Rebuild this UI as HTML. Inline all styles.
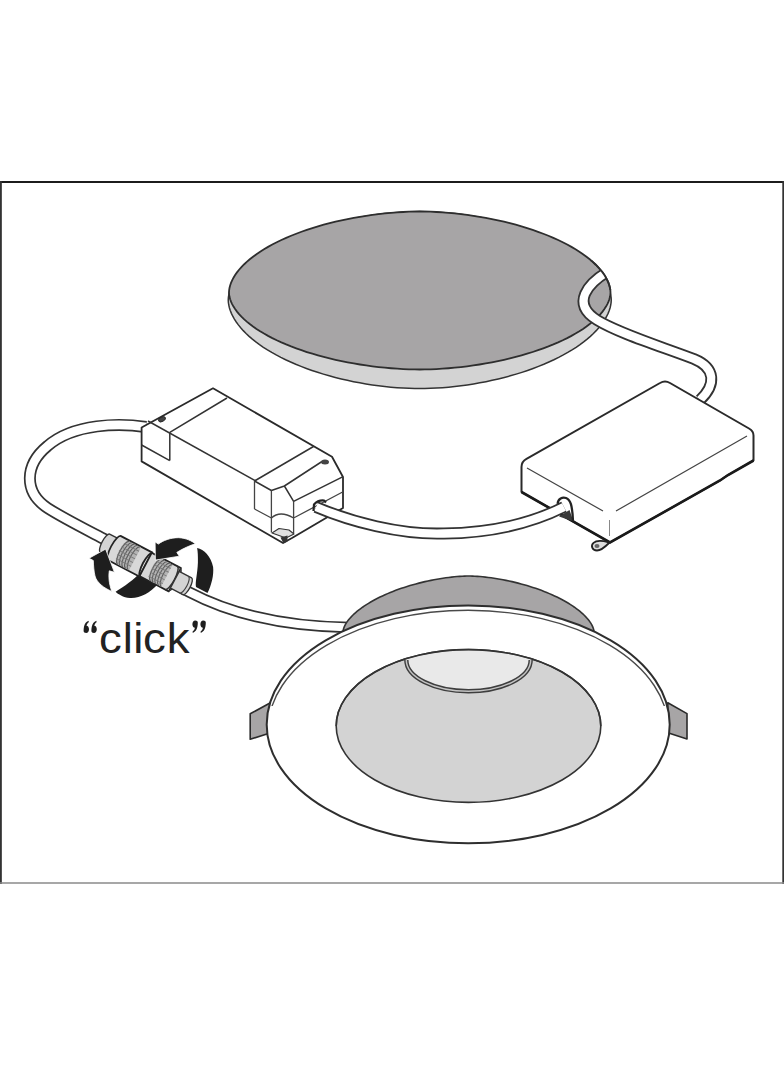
<!DOCTYPE html>
<html><head><meta charset="utf-8">
<style>
html,body{margin:0;padding:0;background:#fff;}
svg{display:block;}
</style></head><body>
<svg width="784" height="1066" viewBox="0 0 784 1066">
<defs><clipPath id="discclip"><path d="M610.50 292.50 L610.37 294.55 L610.00 296.83 L609.37 299.20 L608.49 301.63 L607.37 304.10 L606.00 306.59 L604.38 309.10 L602.52 311.62 L600.43 314.13 L598.09 316.64 L595.53 319.14 L592.74 321.62 L589.72 324.07 L586.48 326.50 L583.03 328.90 L579.37 331.26 L575.50 333.58 L571.44 335.85 L567.19 338.08 L562.75 340.25 L558.13 342.37 L553.35 344.43 L548.40 346.43 L543.30 348.36 L538.05 350.22 L532.66 352.02 L527.14 353.73 L521.51 355.37 L515.76 356.93 L509.91 358.41 L503.98 359.80 L497.96 361.11 L491.88 362.33 L485.74 363.46 L479.55 364.49 L473.34 365.43 L467.11 366.28 L460.88 367.03 L454.67 367.68 L448.49 368.24 L442.37 368.69 L436.35 369.04 L430.47 369.30 L424.82 369.45 L419.75 369.50 L414.68 369.45 L409.03 369.30 L403.15 369.04 L397.13 368.69 L391.01 368.24 L384.83 367.68 L378.62 367.03 L372.39 366.28 L366.16 365.43 L359.95 364.49 L353.76 363.46 L347.62 362.33 L341.54 361.11 L335.52 359.80 L329.59 358.41 L323.74 356.93 L317.99 355.37 L312.36 353.73 L306.84 352.02 L301.45 350.22 L296.20 348.36 L291.10 346.43 L286.15 344.43 L281.37 342.37 L276.75 340.25 L272.31 338.08 L268.06 335.85 L264.00 333.58 L260.13 331.26 L256.47 328.90 L253.02 326.50 L249.78 324.07 L246.76 321.62 L243.97 319.14 L241.41 316.64 L239.07 314.13 L236.98 311.62 L235.12 309.10 L233.50 306.59 L232.13 304.10 L231.01 301.63 L230.13 299.20 L229.50 296.83 L229.13 294.55 L229.00 292.50 L229.13 290.35 L229.50 287.95 L230.13 285.45 L231.01 282.89 L232.13 280.30 L233.50 277.67 L235.12 275.03 L236.98 272.39 L239.07 269.74 L241.41 267.10 L243.97 264.48 L246.76 261.87 L249.78 259.29 L253.02 256.73 L256.47 254.21 L260.13 251.73 L264.00 249.29 L268.06 246.90 L272.31 244.55 L276.75 242.27 L281.37 240.04 L286.15 237.87 L291.10 235.77 L296.20 233.74 L301.45 231.78 L306.84 229.89 L312.36 228.09 L317.99 226.36 L323.74 224.72 L329.59 223.17 L335.52 221.70 L341.54 220.32 L347.62 219.04 L353.76 217.86 L359.95 216.77 L366.16 215.78 L372.39 214.89 L378.62 214.10 L384.83 213.41 L391.01 212.83 L397.13 212.35 L403.15 211.98 L409.03 211.71 L414.68 211.55 L419.75 211.50 L424.82 211.55 L430.47 211.71 L436.35 211.98 L442.37 212.35 L448.49 212.83 L454.67 213.41 L460.88 214.10 L467.11 214.89 L473.34 215.78 L479.55 216.77 L485.74 217.86 L491.88 219.04 L497.96 220.32 L503.98 221.70 L509.91 223.17 L515.76 224.72 L521.51 226.36 L527.14 228.09 L532.66 229.89 L538.05 231.78 L543.30 233.74 L548.40 235.77 L553.35 237.87 L558.13 240.04 L562.75 242.27 L567.19 244.55 L571.44 246.90 L575.50 249.29 L579.37 251.73 L583.03 254.21 L586.48 256.73 L589.72 259.29 L592.74 261.87 L595.53 264.48 L598.09 267.10 L600.43 269.74 L602.52 272.39 L604.38 275.03 L606.00 277.67 L607.37 280.30 L608.49 282.89 L609.37 285.45 L610.00 287.95 L610.37 290.35 Z"/><rect x="0" y="306" width="784" height="800"/></clipPath></defs>
<rect x="0" y="0" width="784" height="1066" fill="#fff"/>
<!-- frame -->
<line x1="0" y1="182" x2="784" y2="182" stroke="#1c1c1c" stroke-width="2"/>
<line x1="0.9" y1="181" x2="0.9" y2="884" stroke="#333" stroke-width="1.9"/>
<line x1="783.2" y1="181" x2="783.2" y2="884" stroke="#333" stroke-width="1.8"/>
<line x1="0" y1="883" x2="784" y2="883" stroke="#8a8a8a" stroke-width="1.5"/>

<!-- top disc -->
<path d="M611.25 300.00 L611.12 302.36 L610.75 304.98 L610.12 307.71 L609.24 310.51 L608.11 313.35 L606.73 316.22 L605.11 319.10 L603.24 322.00 L601.14 324.89 L598.80 327.78 L596.22 330.65 L593.42 333.50 L590.39 336.33 L587.14 339.12 L583.67 341.88 L580.00 344.59 L576.12 347.26 L572.04 349.88 L567.77 352.44 L563.31 354.95 L558.68 357.38 L553.87 359.76 L548.90 362.05 L543.78 364.28 L538.51 366.42 L533.10 368.48 L527.56 370.46 L521.91 372.34 L516.14 374.14 L510.27 375.84 L504.31 377.44 L498.27 378.95 L492.16 380.35 L486.00 381.65 L479.79 382.84 L473.55 383.92 L467.30 384.90 L461.04 385.76 L454.80 386.51 L448.60 387.15 L442.46 387.67 L436.42 388.08 L430.51 388.37 L424.84 388.54 L419.75 388.60 L414.66 388.54 L408.99 388.37 L403.08 388.08 L397.04 387.67 L390.90 387.15 L384.70 386.51 L378.46 385.76 L372.20 384.90 L365.95 383.92 L359.71 382.84 L353.50 381.65 L347.34 380.35 L341.23 378.95 L335.19 377.44 L329.23 375.84 L323.36 374.14 L317.59 372.34 L311.94 370.46 L306.40 368.48 L300.99 366.42 L295.72 364.28 L290.60 362.05 L285.63 359.76 L280.82 357.38 L276.19 354.95 L271.73 352.44 L267.46 349.88 L263.38 347.26 L259.50 344.59 L255.83 341.88 L252.36 339.12 L249.11 336.33 L246.08 333.50 L243.28 330.65 L240.70 327.78 L238.36 324.89 L236.26 322.00 L234.39 319.10 L232.77 316.22 L231.39 313.35 L230.26 310.51 L229.38 307.71 L228.75 304.98 L228.38 302.36 L228.25 300.00 L228.38 297.65 L228.75 295.03 L229.38 292.30 L230.26 289.50 L231.39 286.67 L232.77 283.80 L234.39 280.92 L236.26 278.03 L238.36 275.14 L240.70 272.25 L243.28 269.38 L246.08 266.54 L249.11 263.71 L252.36 260.92 L255.83 258.17 L259.50 255.46 L263.38 252.79 L267.46 250.17 L271.73 247.62 L276.19 245.12 L280.82 242.68 L285.63 240.31 L290.60 238.02 L295.72 235.80 L300.99 233.65 L306.40 231.60 L311.94 229.62 L317.59 227.74 L323.36 225.94 L329.23 224.25 L335.19 222.64 L341.23 221.14 L347.34 219.74 L353.50 218.45 L359.71 217.26 L365.95 216.17 L372.20 215.20 L378.46 214.34 L384.70 213.59 L390.90 212.95 L397.04 212.43 L403.08 212.02 L408.99 211.73 L414.66 211.56 L419.75 211.50 L424.84 211.56 L430.51 211.73 L436.42 212.02 L442.46 212.43 L448.60 212.95 L454.80 213.59 L461.04 214.34 L467.30 215.20 L473.55 216.17 L479.79 217.26 L486.00 218.45 L492.16 219.74 L498.27 221.14 L504.31 222.64 L510.27 224.25 L516.14 225.94 L521.91 227.74 L527.56 229.62 L533.10 231.60 L538.51 233.65 L543.78 235.80 L548.90 238.02 L553.87 240.31 L558.68 242.68 L563.31 245.12 L567.77 247.62 L572.04 250.17 L576.12 252.79 L580.00 255.46 L583.67 258.17 L587.14 260.92 L590.39 263.71 L593.42 266.54 L596.22 269.38 L598.80 272.25 L601.14 275.14 L603.24 278.03 L605.11 280.92 L606.73 283.80 L608.11 286.67 L609.24 289.50 L610.12 292.30 L610.75 295.03 L611.12 297.65 Z" fill="#d3d3d3" stroke="#333" stroke-width="1.5"/>
<path d="M610.50 292.50 L610.37 294.55 L610.00 296.83 L609.37 299.20 L608.49 301.63 L607.37 304.10 L606.00 306.59 L604.38 309.10 L602.52 311.62 L600.43 314.13 L598.09 316.64 L595.53 319.14 L592.74 321.62 L589.72 324.07 L586.48 326.50 L583.03 328.90 L579.37 331.26 L575.50 333.58 L571.44 335.85 L567.19 338.08 L562.75 340.25 L558.13 342.37 L553.35 344.43 L548.40 346.43 L543.30 348.36 L538.05 350.22 L532.66 352.02 L527.14 353.73 L521.51 355.37 L515.76 356.93 L509.91 358.41 L503.98 359.80 L497.96 361.11 L491.88 362.33 L485.74 363.46 L479.55 364.49 L473.34 365.43 L467.11 366.28 L460.88 367.03 L454.67 367.68 L448.49 368.24 L442.37 368.69 L436.35 369.04 L430.47 369.30 L424.82 369.45 L419.75 369.50 L414.68 369.45 L409.03 369.30 L403.15 369.04 L397.13 368.69 L391.01 368.24 L384.83 367.68 L378.62 367.03 L372.39 366.28 L366.16 365.43 L359.95 364.49 L353.76 363.46 L347.62 362.33 L341.54 361.11 L335.52 359.80 L329.59 358.41 L323.74 356.93 L317.99 355.37 L312.36 353.73 L306.84 352.02 L301.45 350.22 L296.20 348.36 L291.10 346.43 L286.15 344.43 L281.37 342.37 L276.75 340.25 L272.31 338.08 L268.06 335.85 L264.00 333.58 L260.13 331.26 L256.47 328.90 L253.02 326.50 L249.78 324.07 L246.76 321.62 L243.97 319.14 L241.41 316.64 L239.07 314.13 L236.98 311.62 L235.12 309.10 L233.50 306.59 L232.13 304.10 L231.01 301.63 L230.13 299.20 L229.50 296.83 L229.13 294.55 L229.00 292.50 L229.13 290.35 L229.50 287.95 L230.13 285.45 L231.01 282.89 L232.13 280.30 L233.50 277.67 L235.12 275.03 L236.98 272.39 L239.07 269.74 L241.41 267.10 L243.97 264.48 L246.76 261.87 L249.78 259.29 L253.02 256.73 L256.47 254.21 L260.13 251.73 L264.00 249.29 L268.06 246.90 L272.31 244.55 L276.75 242.27 L281.37 240.04 L286.15 237.87 L291.10 235.77 L296.20 233.74 L301.45 231.78 L306.84 229.89 L312.36 228.09 L317.99 226.36 L323.74 224.72 L329.59 223.17 L335.52 221.70 L341.54 220.32 L347.62 219.04 L353.76 217.86 L359.95 216.77 L366.16 215.78 L372.39 214.89 L378.62 214.10 L384.83 213.41 L391.01 212.83 L397.13 212.35 L403.15 211.98 L409.03 211.71 L414.68 211.55 L419.75 211.50 L424.82 211.55 L430.47 211.71 L436.35 211.98 L442.37 212.35 L448.49 212.83 L454.67 213.41 L460.88 214.10 L467.11 214.89 L473.34 215.78 L479.55 216.77 L485.74 217.86 L491.88 219.04 L497.96 220.32 L503.98 221.70 L509.91 223.17 L515.76 224.72 L521.51 226.36 L527.14 228.09 L532.66 229.89 L538.05 231.78 L543.30 233.74 L548.40 235.77 L553.35 237.87 L558.13 240.04 L562.75 242.27 L567.19 244.55 L571.44 246.90 L575.50 249.29 L579.37 251.73 L583.03 254.21 L586.48 256.73 L589.72 259.29 L592.74 261.87 L595.53 264.48 L598.09 267.10 L600.43 269.74 L602.52 272.39 L604.38 275.03 L606.00 277.67 L607.37 280.30 L608.49 282.89 L609.37 285.45 L610.00 287.95 L610.37 290.35 Z" fill="#a7a5a6" stroke="#2e2e2e" stroke-width="1.8"/>

<!-- cable disc -> box -->
<g fill="none" stroke-linecap="butt">
<path d="M607 272 C589 283 570 303 597 320 C620 334 660 346 694 359 C716 368 716 385 700 400" stroke="#333" stroke-width="11.8" clip-path="url(#discclip)"/>
<path d="M607 272 C589 283 570 303 597 320 C620 334 660 346 694 359 C716 368 716 385 700 400" stroke="#fff" stroke-width="8.2" clip-path="url(#discclip)"/>
<path d="M610.50 292.50 L610.37 294.55 L610.00 296.83 L609.37 299.20 L608.49 301.63 L607.37 304.10 L606.00 306.59 L604.38 309.10 L602.52 311.62 L600.43 314.13 L598.09 316.64 L595.53 319.14 L592.74 321.62 L589.72 324.07 L586.48 326.50 L583.03 328.90 L579.37 331.26 L575.50 333.58 L571.44 335.85 L567.19 338.08 L562.75 340.25 L558.13 342.37 L553.35 344.43 L548.40 346.43 L543.30 348.36 L538.05 350.22 L532.66 352.02 L527.14 353.73 L521.51 355.37 L515.76 356.93 L509.91 358.41 L503.98 359.80 L497.96 361.11 L491.88 362.33 L485.74 363.46 L479.55 364.49 L473.34 365.43 L467.11 366.28 L460.88 367.03 L454.67 367.68 L448.49 368.24 L442.37 368.69 L436.35 369.04 L430.47 369.30 L424.82 369.45 L419.75 369.50 L414.68 369.45 L409.03 369.30 L403.15 369.04 L397.13 368.69 L391.01 368.24 L384.83 367.68 L378.62 367.03 L372.39 366.28 L366.16 365.43 L359.95 364.49 L353.76 363.46 L347.62 362.33 L341.54 361.11 L335.52 359.80 L329.59 358.41 L323.74 356.93 L317.99 355.37 L312.36 353.73 L306.84 352.02 L301.45 350.22 L296.20 348.36 L291.10 346.43 L286.15 344.43 L281.37 342.37 L276.75 340.25 L272.31 338.08 L268.06 335.85 L264.00 333.58 L260.13 331.26 L256.47 328.90 L253.02 326.50 L249.78 324.07 L246.76 321.62 L243.97 319.14 L241.41 316.64 L239.07 314.13 L236.98 311.62 L235.12 309.10 L233.50 306.59 L232.13 304.10 L231.01 301.63 L230.13 299.20 L229.50 296.83 L229.13 294.55 L229.00 292.50 L229.13 290.35 L229.50 287.95 L230.13 285.45 L231.01 282.89 L232.13 280.30 L233.50 277.67 L235.12 275.03 L236.98 272.39 L239.07 269.74 L241.41 267.10 L243.97 264.48 L246.76 261.87 L249.78 259.29 L253.02 256.73 L256.47 254.21 L260.13 251.73 L264.00 249.29 L268.06 246.90 L272.31 244.55 L276.75 242.27 L281.37 240.04 L286.15 237.87 L291.10 235.77 L296.20 233.74 L301.45 231.78 L306.84 229.89 L312.36 228.09 L317.99 226.36 L323.74 224.72 L329.59 223.17 L335.52 221.70 L341.54 220.32 L347.62 219.04 L353.76 217.86 L359.95 216.77 L366.16 215.78 L372.39 214.89 L378.62 214.10 L384.83 213.41 L391.01 212.83 L397.13 212.35 L403.15 211.98 L409.03 211.71 L414.68 211.55 L419.75 211.50 L424.82 211.55 L430.47 211.71 L436.35 211.98 L442.37 212.35 L448.49 212.83 L454.67 213.41 L460.88 214.10 L467.11 214.89 L473.34 215.78 L479.55 216.77 L485.74 217.86 L491.88 219.04 L497.96 220.32 L503.98 221.70 L509.91 223.17 L515.76 224.72 L521.51 226.36 L527.14 228.09 L532.66 229.89 L538.05 231.78 L543.30 233.74 L548.40 235.77 L553.35 237.87 L558.13 240.04 L562.75 242.27 L567.19 244.55 L571.44 246.90 L575.50 249.29 L579.37 251.73 L583.03 254.21 L586.48 256.73 L589.72 259.29 L592.74 261.87 L595.53 264.48 L598.09 267.10 L600.43 269.74 L602.52 272.39 L604.38 275.03 L606.00 277.67 L607.37 280.30 L608.49 282.89 L609.37 285.45 L610.00 287.95 L610.37 290.35 Z" fill="none" stroke="#2e2e2e" stroke-width="1.8" clip-path="url(#edgeclip)"/><clipPath id="edgeclip"><rect x="590" y="260" width="30" height="30"/></clipPath>
<!-- loop cable -->
<path d="M146 427 C120 423 74 423 47.5 446 C24.5 465 23.5 492 47.5 508 C63 518 85 529 106 540" stroke="#333" stroke-width="12"/>
<path d="M146 427 C120 423 74 423 47.5 446 C24.5 465 23.5 492 47.5 508 C63 518 85 529 106 540" stroke="#fff" stroke-width="8.6"/>
</g>

<!-- right box -->
<g stroke-linejoin="round">
<path d="M521.5 467 Q521.5 461.5 526.5 458.8 L660 383 Q665 380 670 383 L749 428.5 Q753.5 431 753.5 435.5 L753.5 460.5 L728 475 L720 480.5 L610 542.5 L521.5 492 Z" fill="#fff" stroke="#2a2a2a" stroke-width="2"/>
<path d="M527 468 L603 511 M616 511 L747 436" stroke="#444" stroke-width="1.2" fill="none"/>
<path d="M609.5 520 L609.5 536" stroke="#888" stroke-width="1" fill="none"/>
<path d="M521.5 492 L610 542.5 L720 480.5 L728 475 L753.5 460.5" stroke="#1a1a1a" stroke-width="2.6" fill="none" stroke-linejoin="miter"/>
<path d="M610 542 C606 546 602 550.5 597 550.5 C592 550.5 590.5 545.5 593.5 542.8 C596.5 540.2 603 540.5 607 542 Z" fill="#ddd" stroke="#222" stroke-width="1.8"/><ellipse cx="597" cy="546" rx="2.5" ry="2" fill="#666"/>

</g>

<!-- left driver -->
<g stroke-linejoin="round" fill="none">
<path d="M141.6 427.5 L213 388.3 L332 456.8 L343 477 L343 508 L292 538 L283 543 L141.6 461.4 Z" fill="#fff" stroke="#2a2a2a" stroke-width="1.8"/>
<path d="M148 421 L256 481" stroke="#333" stroke-width="1.5"/>
<path d="M169.8 432.4 L169.8 460.6 M141.6 445 L169.8 460.6 M169.8 432.4 L227 398" stroke="#333" stroke-width="1.5"/>
<path d="M254.5 481 L313.5 446.5 M254.5 481 L271.4 490.5 L284.4 486 L293.6 501.3 L342.6 476.8 M284.4 486 L322 461.5" stroke="#333" stroke-width="1.5"/>
<path d="M254.5 481 L254.5 509 M271.4 490.5 L271.4 532.5 M293.6 501.3 L293.6 533 M342.6 492 L293.6 518" stroke="#444" stroke-width="1.3"/>
<path d="M254.5 509 L271.4 518 Q280 510 293.6 518" stroke="#444" stroke-width="1.3"/>
<ellipse cx="325" cy="462" rx="4" ry="2.5" fill="#444"/>
<ellipse cx="162" cy="419.3" rx="3.8" ry="2.2" fill="#444" stroke="#222" stroke-width="0.8" transform="rotate(-28 162 419.3)"/>
<path d="M272 533 L279 528.5 L289 530 L294 534 L286 538 Z" fill="#e0e0e0" stroke="#333" stroke-width="1.1"/><path d="M280.5 537.5 L287.5 535.5 L287.5 541.5 L283.5 543.5 Z" fill="#333"/>

</g>

<!-- cable driver -> box -->
<path d="M316 507 C350 521.5 400 535 444 533.5 C490 533 530 524 564 507" fill="none" stroke="#333" stroke-width="12"/>
<path d="M316 507 C350 521.5 400 535 444 533.5 C490 533 530 524 564 507" fill="none" stroke="#fff" stroke-width="8.4"/>
<path d="M313.5 511 L314 504.5 Q318 500 324 500.5 L326 502.5" fill="none" stroke="#222" stroke-width="2.2"/>
<path d="M559 516.5 L569.5 510 L573.5 521.5 Z" fill="#3a3a3a"/>
<path d="M557.6 503.8 C558 498.5 562.5 496.8 566 498 C570.5 499.8 572.3 505 573 521.3" fill="none" stroke="#222" stroke-width="2.3"/>

<!-- arrows behind -->
<g fill="#1e1e1e">
<path d="M115.6 591.7 C120 589 130 583 139 574 L158 584 C150 593 140 598.5 130 598 C123 597.5 118 594 115.6 591.7 Z"/>
<path d="M197.1 547.9 C204 549.5 211 556 213.1 567 C214 575 211.5 585 207.5 593 L196 587 C195 582 197.5 574 197.9 562.5 C198 556 197.8 551 197.1 547.9 Z"/>
</g>
<!-- cable over crescent -->
<g fill="none">
<path d="M183 588.8 L189 592 C225 611 275 626.5 350 627.5" stroke="#333" stroke-width="11.5"/>
<path d="M183 588.8 L189 592 C225 611 275 626.5 350 627.5" stroke="#fff" stroke-width="8"/>
</g>
<!-- connector -->
<g transform="translate(100,539.5) rotate(27.7) translate(0,0.85) scale(1,1.066)" stroke-linejoin="round">
<path d="M6 -9.5 L17 -9.5 L17 9.5 L6 9.5 A3 9.5 0 0 1 6 -9.5 Z" fill="#d4d4d4" stroke="#333" stroke-width="1.3"/>
<path d="M17 -12.8 L52 -12.8 L52 12.8 L17 12.8 A4 12.8 0 0 1 17 -12.8 Z" fill="#d8d8d8" stroke="#222" stroke-width="1.7"/>
<path d="M26 -12 L40 -12 L40 12 L26 12 A4 12 0 0 1 26 -12 Z" fill="#b4b4b4"/>
<path d="M27 -12 A4 12 0 0 0 27 12 M30 -12 A4 12 0 0 0 30 12 M33 -12 A4 12 0 0 0 33 12 M36 -12 A4 12 0 0 0 36 12 M39 -12 A4 12 0 0 0 39 12" fill="none" stroke="#5e5e5e" stroke-width="1.1"/>
<path d="M23 -8 L40 -8 M22.5 -4 L40 -4 M22 0 L40 0 M22.5 4 L40 4 M23 8 L40 8" fill="none" stroke="#7a7a7a" stroke-width="0.9"/>
<path d="M52 -12.3 L85 -12.3 L85 12.3 L52 12.3 Z" fill="#d8d8d8" stroke="#222" stroke-width="1.7"/>
<path d="M63 -11.5 L76 -11.5 L76 11.5 L63 11.5 A4 11.5 0 0 1 63 -11.5 Z" fill="#b4b4b4"/>
<path d="M64 -11.5 A4 11.5 0 0 0 64 11.5 M67 -11.5 A4 11.5 0 0 0 67 11.5 M70 -11.5 A4 11.5 0 0 0 70 11.5 M73 -11.5 A4 11.5 0 0 0 73 11.5 M76 -11.5 A4 11.5 0 0 0 76 11.5" fill="none" stroke="#5e5e5e" stroke-width="1.1"/>
<path d="M60 -7.5 L76 -7.5 M59.5 -3.5 L76 -3.5 M59.5 0.5 L76 0.5 M59.5 4.5 L76 4.5 M60 8.5 L76 8.5" fill="none" stroke="#7a7a7a" stroke-width="0.9"/>
<path d="M53 -12.8 A4 12.8 0 0 0 53 12.8" fill="none" stroke="#222" stroke-width="1.8"/>
<path d="M81 -12.3 A3.5 12.3 0 0 1 81 12.3 M84.5 -11.8 A3.5 11.8 0 0 1 84.5 11.8" fill="none" stroke="#333" stroke-width="1.5"/>
<path d="M85 -8.8 L99 -8.8 A3 8.8 0 0 1 99 8.8 L85 8.8 Z" fill="#d4d4d4" stroke="#333" stroke-width="1.3"/><path d="M95.5 -8.8 A3 8.8 0 0 1 95.5 8.8" fill="none" stroke="#444" stroke-width="1.2"/>
</g>
<!-- arrows on top -->
<g fill="#1e1e1e" stroke="#fff" stroke-width="0.8" stroke-linejoin="miter">
<path d="M105.6 549.1 L114.4 572.3 L109.3 570.8 C108.5 576 108.7 583 111.8 591.4 C104 588 97 583 95 576 C93.8 571 93.5 565 93.3 560.5 L89.1 558.2 Z"/>
<path d="M155.1 541.9 L158.3 544.1 C163 540.5 171 537.5 178.7 537.7 C186 538 192 541 195.3 543.8 C190 545.5 183 548.5 176.8 552.4 L179.3 556.2 L155.4 560.1 Z"/>
</g>

<!-- click text -->
<g fill="#1e1e1e">
<path d="M83.6 631 C83.6 628.5 84 625 85.5 623 C86.3 622 87.3 621.2 88.6 620.7 L88.8 622.2 C87.6 622.9 86.8 624 86.5 625.8 C88 625.9 89 627.4 89 629.3 C89 631.4 87.8 633 86.2 633 C84.6 633 83.6 632.2 83.6 631 Z"/>
<path d="M91.4 631 C91.4 628.5 91.8 625 93.3 623 C94.1 622 95.1 621.2 96.4 620.7 L96.6 622.2 C95.4 622.9 94.6 624 94.3 625.8 C95.8 625.9 96.8 627.4 96.8 629.3 C96.8 631.4 95.6 633 94 633 C92.4 633 91.4 632.2 91.4 631 Z"/>
<path d="M197.8 622.6 C197.8 625.1 197.4 628.6 195.9 630.6 C195.1 631.6 194.1 632.4 192.8 632.9 L192.6 631.4 C193.8 630.7 194.6 629.6 194.9 627.8 C193.4 627.7 192.4 626.2 192.4 624.3 C192.4 622.2 193.6 620.6 195.2 620.6 C196.8 620.6 197.8 621.4 197.8 622.6 Z"/>
<path d="M205.8 622.6 C205.8 625.1 205.4 628.6 203.9 630.6 C203.1 631.6 202.1 632.4 200.8 632.9 L200.6 631.4 C201.8 630.7 202.6 629.6 202.9 627.8 C201.4 627.7 200.4 626.2 200.4 624.3 C200.4 622.2 201.6 620.6 203.2 620.6 C204.8 620.6 205.8 621.4 205.8 622.6 Z"/>
</g>
<g font-family="Liberation Sans, sans-serif" font-size="43" fill="#222">
<text transform="translate(99,652.5) scale(1.06,1)">c</text>
<text transform="translate(122.8,652.5) scale(1.06,1)">l</text>
<text transform="translate(133.25,652.5) scale(1.06,1)">i</text>
<text transform="translate(143.1,652.5) scale(1.06,1)">c</text>
<text transform="translate(166.75,652.5) scale(1.06,1)">k</text>
</g>

<!-- downlight -->
<g stroke-linejoin="round">
<path d="M250.2 713.8 L270 703 L270 733 L250.2 739.3 Z" fill="#a7a5a6" stroke="#2a2a2a" stroke-width="1.6"/>
<path d="M667.8 702.7 L687 713.6 L687 739 L667.8 732.7 Z" fill="#a7a5a6" stroke="#2a2a2a" stroke-width="1.6"/>
<path d="M343.00 632.00 L343.05 631.23 L343.20 630.26 L343.46 629.20 L343.81 628.07 L344.26 626.90 L344.82 625.69 L345.47 624.44 L346.22 623.18 L347.07 621.89 L348.02 620.58 L349.06 619.26 L350.19 617.93 L351.43 616.60 L352.75 615.26 L354.16 613.91 L355.66 612.57 L357.26 611.22 L358.93 609.88 L360.69 608.55 L362.54 607.22 L364.46 605.91 L366.46 604.60 L368.54 603.31 L370.70 602.03 L372.92 600.77 L375.21 599.52 L377.57 598.30 L380.00 597.09 L382.48 595.91 L385.02 594.75 L387.62 593.62 L390.27 592.51 L392.97 591.43 L395.72 590.37 L398.51 589.35 L401.34 588.36 L404.20 587.40 L407.10 586.47 L410.02 585.58 L412.97 584.72 L415.95 583.90 L418.94 583.11 L421.94 582.36 L424.95 581.65 L427.96 580.98 L430.97 580.35 L433.98 579.76 L436.98 579.21 L439.96 578.70 L442.91 578.24 L445.84 577.82 L448.72 577.44 L451.56 577.10 L454.35 576.81 L457.06 576.56 L459.69 576.36 L462.22 576.20 L464.60 576.09 L466.77 576.02 L468.50 576.00 L470.23 576.02 L472.40 576.09 L474.78 576.20 L477.31 576.36 L479.94 576.56 L482.65 576.81 L485.44 577.10 L488.28 577.44 L491.16 577.82 L494.09 578.24 L497.04 578.70 L500.02 579.21 L503.02 579.76 L506.03 580.35 L509.04 580.98 L512.05 581.65 L515.06 582.36 L518.06 583.11 L521.05 583.90 L524.03 584.72 L526.98 585.58 L529.90 586.47 L532.80 587.40 L535.66 588.36 L538.49 589.35 L541.28 590.37 L544.03 591.43 L546.73 592.51 L549.38 593.62 L551.98 594.75 L554.52 595.91 L557.00 597.09 L559.43 598.30 L561.79 599.52 L564.08 600.77 L566.30 602.03 L568.46 603.31 L570.54 604.60 L572.54 605.91 L574.46 607.22 L576.31 608.55 L578.07 609.88 L579.74 611.22 L581.34 612.57 L582.84 613.91 L584.25 615.26 L585.57 616.60 L586.81 617.93 L587.94 619.26 L588.98 620.58 L589.93 621.89 L590.78 623.18 L591.53 624.44 L592.18 625.69 L592.74 626.90 L593.19 628.07 L593.54 629.20 L593.80 630.26 L593.95 631.23 L594.00 632.00 Z" fill="#a7a5a6" stroke="#333" stroke-width="1.6"/>
<ellipse cx="468.2" cy="724.4" rx="201.5" ry="118.9" fill="#fff" stroke="#2e2e2e" stroke-width="2"/>
<clipPath id="trimclip"><rect x="0" y="560" width="784" height="146"/></clipPath><ellipse cx="468.2" cy="729.3" rx="200" ry="119" fill="none" stroke="#4a4a4a" stroke-width="1.4" clip-path="url(#trimclip)"/>
<ellipse cx="468.5" cy="726" rx="132.3" ry="76.4" fill="#d3d3d3" stroke="#333" stroke-width="1.6"/>
<path d="M404 660 A64.5 33 0 0 0 533 660 A132.3 76.4 0 0 0 404 660 Z" fill="#e9e9e9" stroke="none"/>
<path d="M406.3 660 A62.2 31.2 0 0 0 530.7 660" fill="none" stroke="#3e3e3e" stroke-width="4.4"/>
<path d="M406.3 660 A62.2 31.2 0 0 0 530.7 660" fill="none" stroke="#c4c4c4" stroke-width="1.5"/>
<path d="M336.2 726 A132.3 76.4 0 0 1 600.8 726" fill="none" stroke="#333" stroke-width="1.6"/>
</g>
</svg>
</body></html>
